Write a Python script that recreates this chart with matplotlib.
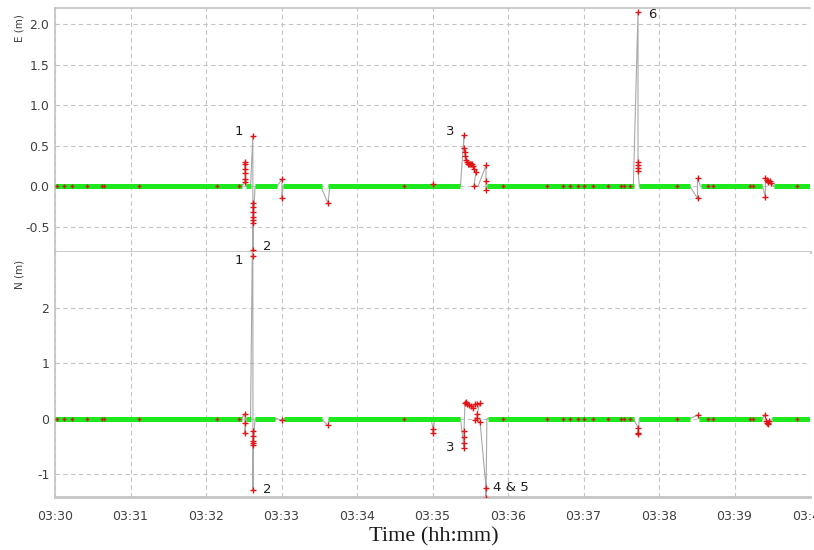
import matplotlib
matplotlib.use("agg")
import numpy as np
import matplotlib.pyplot as plt

plt.rcParams["axes.unicode_minus"] = False
plt.rcParams["font.family"] = "DejaVu Sans"

# time in minutes after 03:30
tick_labels = ["03:30", "03:31", "03:32", "03:33", "03:34", "03:35",
               "03:36", "03:37", "03:38", "03:39", "03:40"]

# East error series (m)
e_t = [0.0,
       2.47, 2.517, 2.517, 2.517, 2.517, 2.517, 2.517, 2.53,
       2.59, 2.620, 2.622, 2.623, 2.626, 2.626, 2.626, 2.626, 2.626, 2.626, 2.65,
       2.94, 3.007, 3.007, 3.02,
       3.52, 3.616, 3.64,
       4.98, 5.007, 5.03,
       5.37, 5.417, 5.411, 5.424, 5.430, 5.444, 5.457, 5.470, 5.483, 5.497,
       5.510, 5.523, 5.536, 5.550, 5.576, 5.550, 5.603, 5.709, 5.709, 5.709, 5.722,
       7.66, 7.722, 7.722, 7.722, 7.722, 7.722, 7.74,
       8.41, 8.51, 8.51, 8.55,
       9.37, 9.41, 9.41, 9.43, 9.44, 9.45, 9.47, 9.49, 9.52,
       10.0]
e_v = [0.0,
       0.0, 0.05, 0.09, 0.17, 0.22, 0.27, 0.30, 0.0,
       0.0, 0.62, -1.0, -0.79, -0.20, -0.26, -0.32, -0.38, -0.42, -0.45, 0.0,
       0.0, 0.09, -0.14, 0.0,
       0.0, -0.21, 0.0,
       0.0, 0.03, 0.0,
       0.0, 0.63, 0.47, 0.42, 0.38, 0.33, 0.30, 0.28, 0.27, 0.28,
       0.27, 0.27, 0.25, 0.22, 0.18, 0.01, 0.0, 0.26, 0.07, -0.04, 0.0,
       0.0, 2.15, 0.30, 0.26, 0.23, 0.19, 0.0,
       0.0, -0.15, 0.10, 0.0,
       0.0, -0.13, 0.10, 0.08, 0.06, 0.05, 0.07, 0.04, 0.0,
       0.0]

# North error series (m)
n_t = [0.0,
       2.47, 2.517, 2.517, 2.517, 2.53,
       2.59, 2.615, 2.620, 2.623, 2.626, 2.626, 2.626, 2.626, 2.626, 2.65,
       2.94, 3.007, 3.02,
       3.52, 3.616, 3.64,
       4.98, 5.007, 5.007, 5.03,
       5.37, 5.417, 5.417, 5.417, 5.417, 5.430, 5.444, 5.457, 5.483, 5.510,
       5.536, 5.563, 5.590, 5.630, 5.590, 5.590, 5.563, 5.630, 5.709, 5.709, 5.72,
       7.66, 7.722, 7.722, 7.722, 7.74,
       8.41, 8.517, 8.53,
       9.37, 9.40, 9.42, 9.43, 9.44, 9.45, 9.46, 9.50,
       10.0]
n_v = [0.0,
       0.0, 0.09, -0.08, -0.26, 0.0,
       0.0, 3.3, 2.92, -1.28, -0.23, -0.32, -0.40, -0.44, -0.48, 0.0,
       0.0, -0.03, 0.0,
       0.0, -0.12, 0.0,
       0.0, -0.18, -0.25, 0.0,
       0.0, -0.52, -0.43, -0.33, -0.23, 0.28, 0.30, 0.27, 0.25, 0.22,
       0.20, 0.26, 0.27, 0.28, 0.09, 0.02, -0.02, -0.06, -1.24, -1.42, 0.0,
       0.0, -0.16, -0.25, -0.28, 0.0,
       0.0, 0.07, 0.0,
       0.0, 0.07, -0.04, -0.08, -0.10, -0.07, -0.05, 0.0,
       0.0]

# epochs flagged on the zero line
zero_marks = [0.026, 0.119, 0.225, 0.424, 0.623, 0.649, 1.113, 2.146, 2.437,
              4.623, 5.934, 6.517, 6.728, 6.821, 6.927, 7.007, 7.126, 7.325,
              7.497, 7.536, 7.616, 8.238, 8.649, 8.715, 9.205, 9.245, 9.828]

# fixed-solution stretches (green)
e_green_start = [0.0, 2.53, 2.65, 3.02, 3.62, 5.72, 7.74, 8.55, 9.52]
e_green_end = [2.473, 2.59, 2.94, 3.53, 5.37, 7.67, 8.41, 9.37, 10.0]
n_green_start = [0.0, 2.53, 2.65, 3.03, 3.62, 5.73, 7.74, 8.53, 9.50]
n_green_end = [2.473, 2.59, 2.92, 3.53, 5.37, 7.67, 8.41, 9.37, 10.0]

# event labels: text, time, value, panel, dx, dy (points)
lab_text = ["1", "2", "3", "6", "1", "2", "3", "4 & 5"]
lab_t = [2.620, 2.623, 5.417, 7.722, 2.620, 2.623, 5.417, 5.709]
lab_v = [0.62, -0.79, 0.63, 2.15, 2.92, -1.28, -0.52, -1.24]
lab_panel = ["E", "E", "E", "E", "N", "N", "N", "N"]
lab_dx = [-7, 7, -7, 7, -7, 7, -7, 5]
lab_dy = [3, 3, 3, -2, -3, 0, 0, 0]

GREEN = "#1ee81e"
RED = "#e01414"
GRAY = "#a8a8a8"
FRAME = "#c4c4c4"
TXT = "#404040"

fig = plt.figure(figsize=(8.14, 5.5), dpi=100)
axE = fig.add_axes([55/814, 1-252/550, 755/814, 244/550])
axN = fig.add_axes([55/814, 1-497/550, 755/814, 245/550])

panels = [(axE, e_t, e_v, e_green_start, e_green_end, (-0.81, 2.2),
           [-0.5, 0.0, 0.5, 1.0, 1.5, 2.0], "%.1f"),
          (axN, n_t, n_v, n_green_start, n_green_end, (-1.41, 3.0),
           [-1, 0, 1, 2], "%d")]

for ax, tt, vv, gs, ge, ylim, yt, fmt in panels:
    tt = np.array(tt)
    vv = np.array(vv)
    ax.plot(tt, vv, color=GRAY, lw=0.8, zorder=2)
    for a, b in zip(gs, ge):
        ax.plot([a, b], [0, 0], color=GREEN, lw=3.6, solid_capstyle="butt",
                zorder=3)
    red = vv != 0
    ax.plot(tt[red], vv[red], ls="none", marker="+", color=RED, ms=4,
            mew=1.0, zorder=4)
    zm = np.array(zero_marks)
    ax.plot(zm, np.zeros_like(zm), ls="none", marker="+", color="#c0281c",
            ms=3.5, mew=1.0, zorder=4)
    ax.set_xlim(0, 10)
    ax.set_ylim(*ylim)
    ax.set_xticks(range(11))
    ax.set_yticks(yt)
    ax.set_yticklabels([fmt % v for v in yt])
    ax.grid(True, color=FRAME, ls=(0, (4, 3)), lw=0.8)
    ax.set_axisbelow(True)
    ax.tick_params(length=0, labelsize=9, colors=TXT, pad=4)
    ax.tick_params(axis="x", pad=9)
    ax.spines["right"].set_visible(False)
    for s in ["left", "top", "bottom"]:
        ax.spines[s].set_color(FRAME)
        ax.spines[s].set_linewidth(1.2)

axE.set_xticklabels([])
axE.spines["bottom"].set_linewidth(2.0)
axE.spines["bottom"].set_zorder(1)
axN.spines["top"].set_visible(False)
axN.spines["bottom"].set_linewidth(2.0)
axN.set_xticklabels(tick_labels)

for txt, t, v, p, dx, dy in zip(lab_text, lab_t, lab_v, lab_panel, lab_dx, lab_dy):
    ax = axE if p == "E" else axN
    ha = "right" if dx < 0 else "left"
    ax.annotate(txt, (t, v), xytext=(dx, dy), textcoords="offset points",
                ha=ha, va="center", fontsize=9.5, color="#202020",
                annotation_clip=False, zorder=5)

fig.text(19/814, 1-28/550, "E (m)", rotation=90, ha="center", va="center",
         fontsize=7.5, color=TXT)
fig.text(19/814, 1-274/550, "N (m)", rotation=90, ha="center", va="center",
         fontsize=7.5, color=TXT)
fig.text(434/814, 1-537/550, "Time (hh:mm)", ha="center", va="center",
         fontsize=16, family="Liberation Serif", color="#1a1a1a")

fig.savefig("out.png", dpi=100)
